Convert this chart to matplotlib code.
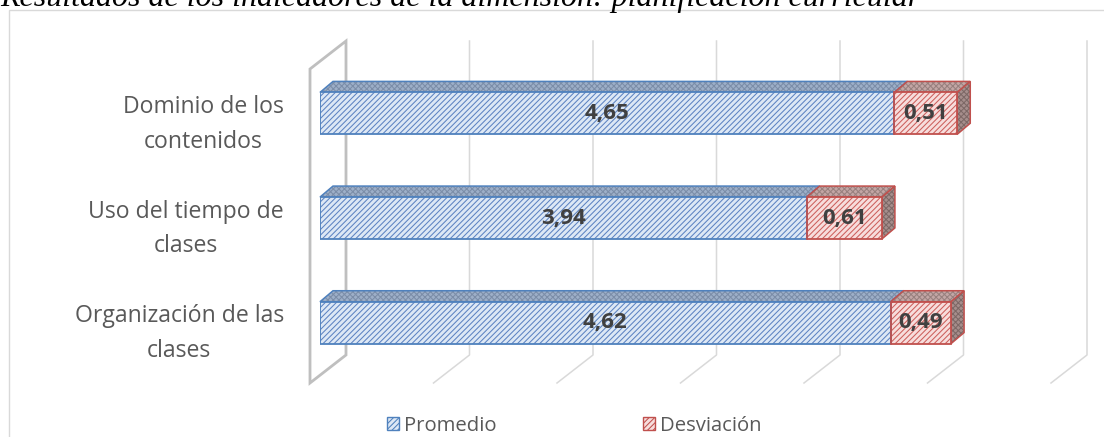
import matplotlib
matplotlib.use("Agg")
import matplotlib.pyplot as plt
from matplotlib.patches import Polygon, Patch, Rectangle
import numpy as np

# ---------------- data ----------------
titulo = "Resultados de los indicadores de la dimensión: planificación curricular"
categorias = ["Dominio de los\ncontenidos", "Uso del tiempo de\nclases", "Organización de las\nclases"]
promedio = [4.65, 3.94, 4.62]
desviacion = [0.51, 0.61, 0.49]
series = ["Promedio", "Desviación"]
etiquetas_prom = ["4,65", "3,94", "4,62"]
etiquetas_desv = ["0,51", "0,61", "0,49"]
rejilla = [0, 1, 2, 3, 4, 5, 6]

# ---------------- style ----------------
W, H = 1104, 437
FONT = "Open Sans"
plt.rcParams["hatch.linewidth"] = 0.75

fig = plt.figure(figsize=(W / 100, H / 100), dpi=100)
fig.patch.set_facecolor("white")

# outer chart frame
fig.patches.append(Rectangle((9 / W, -0.05), 1.2, 1 - 10 / H + 0.05, transform=fig.transFigure,
                             fill=False, edgecolor="#d9d9d9", linewidth=1.0, zorder=0))

ax_l, ax_b, ax_w, ax_h = 320, 62, 741, 314
ax = fig.add_axes([ax_l / W, ax_b / H, ax_w / W, ax_h / H])
ax.set_xlim(rejilla[0], rejilla[-1])
ax.set_ylim(-0.5, len(categorias) - 0.5)
ax.axis("off")

ux = (rejilla[-1] - rejilla[0]) / ax_w
uy = len(categorias) / ax_h
ylo, yhi = -0.5, len(categorias) - 0.5

# depth offsets (in pixels converted to data units)
bx, by = 26 * ux, 20 * uy     # back wall
fx, fy = -10 * ux, -8 * uy    # front floor edge
dx, dy = 13 * ux, 11 * uy     # bar depth

grid_c = "#d9d9d9"
wall_c = "#bfbfbf"
for g in rejilla:
    if g == rejilla[0]:
        wall = Polygon([(g + bx, ylo + by), (g + bx, yhi + by), (g + fx, yhi + fy), (g + fx, ylo + fy)],
                       closed=True, fill=False, edgecolor=wall_c, linewidth=2.0,
                       clip_on=False, zorder=1, joinstyle="miter")
        ax.add_patch(wall)
    else:
        ax.plot([g + bx, g + bx, g + fx], [yhi + by, ylo + by, ylo + fy],
                color=grid_c, linewidth=1.1, clip_on=False, zorder=1)

y = np.arange(len(categorias))[::-1]
h = 0.4

blue_face, blue_hatch, blue_edge = "#dde8f5", "#5d83c2", "#4f81bd"
red_face, red_hatch, red_edge = "#f7dddc", "#cc5f5c", "#c0504d"
HATCH = "//////"

# front faces: fill + hatch, then outline
ax.barh(y, promedio, height=h, color=blue_face, edgecolor=blue_hatch, hatch=HATCH,
        linewidth=0, zorder=3)
ax.barh(y, promedio, height=h, fill=False, edgecolor=blue_edge, linewidth=1.3, zorder=3.1)
ax.barh(y, desviacion, left=promedio, height=h, color=red_face, edgecolor=red_hatch,
        hatch=HATCH, linewidth=0, zorder=3)
ax.barh(y, desviacion, left=promedio, height=h, fill=False, edgecolor=red_edge,
        linewidth=1.3, zorder=3.1)


def face(pts, fc, hc, ec, z):
    ax.add_patch(Polygon(pts, closed=True, facecolor=fc, edgecolor=hc, hatch="xxxxxx",
                         linewidth=0, zorder=z, clip_on=False))
    ax.add_patch(Polygon(pts, closed=True, fill=False, edgecolor=ec, linewidth=1.1,
                         zorder=z + 0.01, clip_on=False, joinstyle="miter"))


for yi, p, d in zip(y, promedio, desviacion):
    top = yi + h / 2
    bot = yi - h / 2
    face([(0, top), (p, top), (p + dx, top + dy), (dx, top + dy)],
         "#9dafc8", "#7b8da8", blue_edge, 2.5)
    face([(p, top), (p + d, top), (p + d + dx, top + dy), (p + dx, top + dy)],
         "#c3a6a5", "#98807e", red_edge, 2.6)
    face([(p + d, bot), (p + d, top), (p + d + dx, top + dy), (p + d + dx, bot + dy)],
         "#a68e8c", "#7d6866", red_edge, 2.7)

lab_c = "#404040"
for yi, p, d, lp, ld in zip(y, promedio, desviacion, etiquetas_prom, etiquetas_desv):
    ax.text(p / 2, yi, lp, ha="center", va="center", fontsize=16, fontweight="bold",
            color=lab_c, family=FONT, zorder=5)
    ax.text(p + d / 2, yi, ld, ha="center", va="center", fontsize=16, fontweight="bold",
            color=lab_c, family=FONT, zorder=5)

for yi, c in zip(y, categorias):
    ax.text(-36 * ux, yi - 11 * uy, c, ha="right", va="center", multialignment="center",
            fontsize=16.6, color="#595959", family=FONT, linespacing=1.6, clip_on=False)

handles = [Patch(facecolor=blue_face, edgecolor=blue_edge, hatch="//////", linewidth=1.0),
           Patch(facecolor=red_face, edgecolor=red_edge, hatch="//////", linewidth=1.0)]
leg = fig.legend(handles, series, loc="center", bbox_to_anchor=(574 / W, 1 - 426 / H),
                 ncol=2, frameon=False, prop={"family": FONT, "size": 14.6},
                 handlelength=0.6, handleheight=0.6, handletextpad=0.25, columnspacing=7.2,
                 labelcolor="#595959")

fig.text(0, 1 - 6 / H, titulo, ha="left", va="baseline", family="Liberation Serif",
         style="italic", fontsize=23, color="#000000")

fig.savefig("out.png", dpi=100)
